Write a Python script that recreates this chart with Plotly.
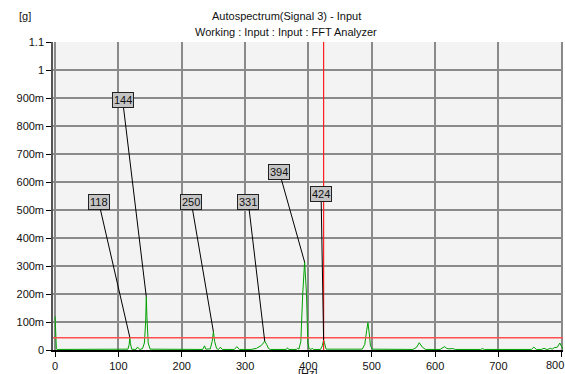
import plotly.graph_objects as go

# Spectrum vertices (Hz, g)
freq = [0, 1, 2, 3, 60, 112, 115, 117, 118, 119, 121, 126, 128, 130, 132, 134, 138, 141, 143, 144, 145, 147, 150,
        200, 233, 236, 238, 245, 248, 250, 252, 255, 258, 261, 264, 283, 287, 291, 310, 318, 325, 329, 331, 334, 337, 340,
        365, 367, 369, 381, 383, 385, 388, 391, 394, 397, 399, 401, 404, 406, 408, 419, 422, 424, 426, 428,
        485, 489, 492, 494, 496, 498, 501, 565, 571, 575, 580, 585, 608, 612, 615, 618, 622, 628, 632,
        672, 675, 678, 752, 756, 760, 768, 772, 775, 778, 782, 785, 788, 793, 797, 800, 802]
amp = [0.12, 0.05, 0.004, 0.002, 0.002, 0.002, 0.003, 0.02, 0.045, 0.022, 0.003, 0.002, 0.003, 0.01, 0.006, 0.002,
       0.005, 0.025, 0.1, 0.19, 0.12, 0.025, 0.003,
       0.002, 0.002, 0.015, 0.003, 0.004, 0.03, 0.065, 0.03, 0.005, 0.002, 0.01, 0.002, 0.002, 0.012, 0.002,
       0.002, 0.006, 0.015, 0.025, 0.032, 0.02, 0.005, 0.002,
       0.002, 0.008, 0.002, 0.002, 0.006, 0.003, 0.03, 0.2, 0.314, 0.2, 0.03, 0.005, 0.002, 0.006, 0.002,
       0.002, 0.015, 0.036, 0.015, 0.003,
       0.003, 0.02, 0.07, 0.098, 0.06, 0.015, 0.003, 0.002, 0.01, 0.026, 0.01, 0.002,
       0.002, 0.008, 0.012, 0.006, 0.004, 0.005, 0.002,
       0.002, 0.005, 0.002, 0.002, 0.01, 0.002, 0.002, 0.006, 0.003, 0.002, 0.006, 0.003, 0.008, 0.01, 0.025, 0.01, 0.003, 0.002]

# Peak markers: label, peak freq, peak amp, box freq, box amp
mark_labels = ["118", "144", "250", "331", "394", "424"]
mark_x = [118, 144, 250, 331, 394, 424]
mark_y = [0.045, 0.19, 0.065, 0.032, 0.314, 0.036]
box_x = [68.8, 106.6, 215, 305, 354, 420]
box_y = [0.529, 0.893, 0.529, 0.529, 0.636, 0.556]

cursor_x = 424
cursor_y = 0.044

xticks = [0, 100, 200, 300, 400, 500, 600, 700, 800]
xticktext = ["0", "100", "200", "300", "400", "500", "600", "700", ""]
yticks = [0, 0.1, 0.2, 0.3, 0.4, 0.5, 0.6, 0.7, 0.8, 0.9, 1.0, 1.1]
yticktext = ["0", "100m", "200m", "300m", "400m", "500m", "600m", "700m", "800m", "900m", "1", "1.1"]

FONT = "Liberation Sans, Arial, sans-serif"

fig = go.Figure()
fig.add_trace(go.Scatter(x=freq, y=amp, mode="lines", line=dict(color="#00a000", width=1), hoverinfo="skip"))

fig.add_shape(type="line", xref="x", yref="y", x0=-3.3, x1=802, y0=cursor_y, y1=cursor_y,
              line=dict(color="#ff5050", width=1.4))
fig.add_shape(type="line", xref="x", yref="y", x0=cursor_x, x1=cursor_x, y0=0, y1=1.1,
              line=dict(color="#ff2020", width=1.2))

for lab, px, py, bx, by in zip(mark_labels, mark_x, mark_y, box_x, box_y):
    fig.add_annotation(x=px, y=py, ax=bx, ay=by, axref="x", ayref="y", xref="x", yref="y",
                       text=lab, showarrow=True, arrowhead=0, arrowwidth=1, arrowcolor="black",
                       bgcolor="#c4c4c4", bordercolor="#222222", borderwidth=1, borderpad=1,
                       font=dict(family=FONT, size=11, color="#111"))

fig.add_annotation(x=xticks[-1], y=0, xref="x", yref="paper", text=str(xticks[-1]), xshift=-7, yshift=-7,
                   showarrow=False, font=dict(family=FONT, size=11, color="#111"), yanchor="top")
fig.add_annotation(x=0.457, y=1.084, xref="paper", yref="paper", text="Autospectrum(Signal 3) - Input",
                   showarrow=False, font=dict(family=FONT, size=11, color="#111"), yanchor="middle")
fig.add_annotation(x=0.457, y=1.032, xref="paper", yref="paper", text="Working : Input : Input : FFT Analyzer",
                   showarrow=False, font=dict(family=FONT, size=11, color="#111"), yanchor="middle")
fig.add_annotation(x=-0.07, y=1.084, xref="paper", yref="paper", text="[g]",
                   showarrow=False, font=dict(family=FONT, size=11, color="#111"), yanchor="middle")
fig.add_annotation(x=0.5, y=-0.074, xref="paper", yref="paper", text="[Hz]",
                   showarrow=False, font=dict(family=FONT, size=11, color="#111"), yanchor="middle")

fig.update_layout(
    width=565, height=374,
    margin=dict(l=53, r=2, t=42, b=24),
    paper_bgcolor="white", plot_bgcolor="#f3f3f3",
    showlegend=False,
    font=dict(family=FONT, size=11, color="#111"),
    xaxis=dict(range=[-3.3, 802], tickvals=xticks, ticktext=xticktext, ticks="outside", ticklen=5, tickcolor="black",
               showgrid=True, gridcolor="#8a8a8a", gridwidth=1.5, zeroline=False,
               showline=True, linecolor="black", linewidth=2, fixedrange=True),
    yaxis=dict(range=[0, 1.1], tickvals=yticks, ticktext=yticktext, ticks="outside", ticklen=5,
               tickcolor="black", showgrid=True, gridcolor="#8a8a8a", gridwidth=1.5, zeroline=False,
               showline=True, linecolor="#555", linewidth=1.5, fixedrange=True),
)

fig.write_html("out.html", config={"displayModeBar": False},
               post_script="document.body.style.margin='0';document.body.style.overflow='hidden';")
